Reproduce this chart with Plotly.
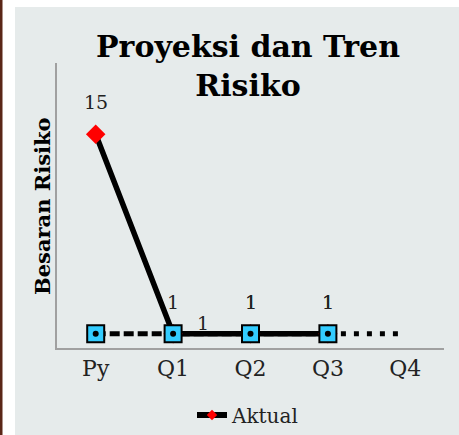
import plotly.graph_objects as go

categories = ["Py", "Q1", "Q2", "Q3", "Q4"]
aktual = [15, 1, 1, 1, None]
proyeksi = [1, 1, 1, 1, None]
tren = [None, None, None, 1, 1]
aktual_labels = ["15", "1", "1", "1", None]
proyeksi_labels = [None, "1", "1", "1", None]

W, H = 459, 435
L, R, T, B = 57, 15, 63, 87
pw, ph = W - L - R, H - T - B

def px_x(p):
    return (p - L) / pw

def px_y(p):
    return (H - B - p) / ph

SERIF = "DejaVu Serif"
fig = go.Figure()

# projection line (dashed) Py..Q3
fig.add_trace(go.Scatter(x=categories, y=proyeksi, mode="lines",
                         line=dict(color="black", width=5, dash="10px,4px"),
                         showlegend=False, hoverinfo="skip"))
# trend continuation (dotted)
fig.add_trace(go.Scatter(x=categories, y=tren, mode="lines",
                         line=dict(color="black", width=5, dash="5px,8px"),
                         showlegend=False, hoverinfo="skip"))
# actual
fig.add_trace(go.Scatter(x=categories, y=aktual, mode="lines+markers", name="Aktual",
                         line=dict(color="black", width=5.5),
                         marker=dict(symbol="diamond", size=15, color="#FF0000"),
                         showlegend=False))
# projection squares
fig.add_trace(go.Scatter(x=categories, y=proyeksi, mode="markers",
                         marker=dict(symbol="square", size=17, color="#33CCFF",
                                     line=dict(color="black", width=2)),
                         showlegend=False))
# centre dots
fig.add_trace(go.Scatter(x=categories, y=proyeksi, mode="markers",
                         marker=dict(symbol="circle", size=6, color="black"),
                         showlegend=False, hoverinfo="skip"))
# legend entry
fig.add_trace(go.Scatter(x=[None], y=[None], mode="lines+markers", name="Aktual",
                         line=dict(color="black", width=6),
                         marker=dict(symbol="diamond", size=8, color="#FF0000")))

LBL = dict(family=SERIF, size=19, color="#222")
ann = []
for c, v, t in zip(categories, aktual, aktual_labels):
    if t is not None:
        ann.append(dict(x=c, y=v, text=t, showarrow=False, yshift=32, font=LBL))
for i, (c, v, t) in enumerate(zip(categories, proyeksi, proyeksi_labels)):
    if t is not None:
        if i == 1:
            ann.append(dict(x=c, y=v, text=t, showarrow=False, xshift=30, yshift=11, font=LBL))
        else:
            ann.append(dict(x=c, y=v, text=t, showarrow=False, yshift=32, font=LBL))
ann.append(dict(xref="paper", yref="paper", x=px_x(42), y=px_y(206),
                xanchor="center", yanchor="middle",
                text="<b>Besaran Risiko</b>", textangle=-90, showarrow=False,
                font=dict(family=SERIF, size=21, color="black")))

shapes = [
    dict(type="rect", xref="paper", yref="paper", x0=px_x(15), x1=px_x(459),
         y0=px_y(435), y1=px_y(7), fillcolor="#E6EBEB", line=dict(width=0), layer="below"),
    dict(type="rect", xref="paper", yref="paper", x0=px_x(0), x1=px_x(2.5),
         y0=px_y(435), y1=px_y(0), fillcolor="#5A2617", line=dict(width=0), layer="below"),
]

fig.update_layout(
    width=W, height=H,
    margin=dict(l=L, r=R, t=T, b=B, autoexpand=False),
    paper_bgcolor="white", plot_bgcolor="rgba(0,0,0,0)",
    title=dict(text="<b>Proyeksi dan Tren<br>Risiko</b>", x=248 / W, xanchor="center",
               xref="container", yref="container", y=1 - 57 / H, yanchor="top",
               font=dict(family=SERIF, size=30, color="black")),
    xaxis=dict(type="category", categoryarray=categories, range=[-0.5, 4.5],
               showline=True, linecolor="#A0A0A0", linewidth=1.5, showgrid=False,
               ticks="", ticklabelstandoff=0,
               tickfont=dict(family=SERIF, size=22, color="#222"), zeroline=False),
    yaxis=dict(range=[0, 20], showline=True, linecolor="#A0A0A0", linewidth=1.5,
               showgrid=False, showticklabels=False, ticks="", zeroline=False),
    legend=dict(orientation="h", x=px_x(248), xanchor="center", y=px_y(415),
                yanchor="middle", font=dict(family=SERIF, size=20, color="#222"),
                bgcolor="rgba(0,0,0,0)"),
    annotations=ann, shapes=shapes,
)

fig.write_html("out.html", config={"displayModeBar": False},
               post_script="document.body.style.margin='0px';")
